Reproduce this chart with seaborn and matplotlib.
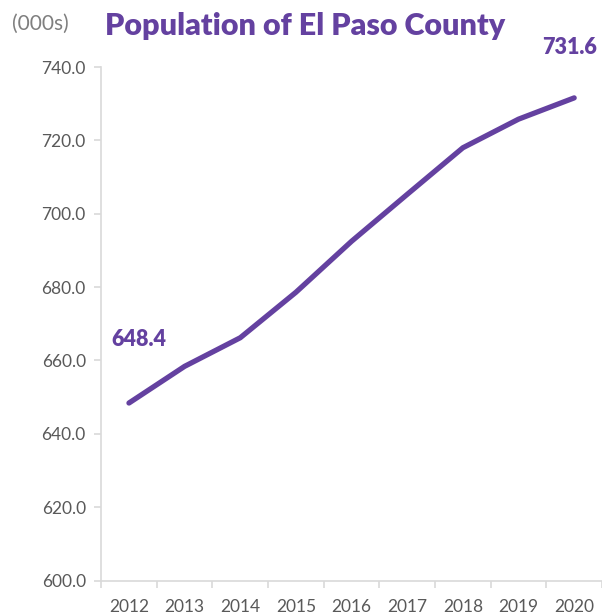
import numpy as np
import pandas as pd
import seaborn as sns
import matplotlib.pyplot as plt

# population estimates, thousands
years = ["2012", "2013", "2014", "2015", "2016", "2017", "2018", "2019", "2020"]
population = [648.4, 658.4, 666.2, 678.6, 692.5, 705.3, 718.0, 725.8, 731.6]
y_ticks = [600, 620, 640, 660, 680, 700, 720, 740]

purple = "#6441A0"
grey_text = "#595959"
grey_axis = "#D9D9D9"

df = pd.DataFrame({"year": years, "pop": population})
df["pos"] = np.arange(len(df))

sns.set_style("white")
plt.rcParams["font.family"] = ["Lato", "DejaVu Sans"]

fig = plt.figure(figsize=(6.02, 6.16), dpi=100)
ax = fig.add_axes([0.168, 0.0576, 0.832, 0.8335])

sns.lineplot(data=df, x="pos", y="pop", ax=ax, color=purple, linewidth=3.8,
             solid_capstyle="round")

ax.set_xlim(-0.5, len(years) - 0.5)
ax.set_ylim(600, 740)
ax.set_yticks(y_ticks)
ax.set_yticklabels([f"{v:.1f}" for v in y_ticks])
ax.set_xticks(df["pos"])
ax.set_xticklabels(years)
ax.set_xticks(np.arange(len(years) + 1) - 0.5, minor=True)
ax.tick_params(axis="x", which="major", length=0, pad=13, labelsize=12.5, labelcolor=grey_text)
ax.tick_params(axis="x", which="minor", length=5, color=grey_axis, width=1.2, direction="out", bottom=True)
ax.tick_params(axis="y", length=5, color=grey_axis, width=1.2, direction="out", left=True,
               labelsize=12.5, labelcolor=grey_text, pad=6)
ax.set_xlabel("")
ax.set_ylabel("")

for s in ["top", "right"]:
    ax.spines[s].set_visible(False)
for s in ["left", "bottom"]:
    ax.spines[s].set_color(grey_axis)
    ax.spines[s].set_linewidth(1.2)

# end-point labels
ax.annotate(f"{population[0]:.1f}", (df["pos"].iloc[0], population[0]),
            xytext=(10, 64), textcoords="offset pixels", ha="center", va="center",
            fontsize=15.5, fontweight="heavy", color=purple)
ax.annotate(f"{population[-1]:.1f}", (df["pos"].iloc[-1], population[-1]),
            xytext=(-5, 50), textcoords="offset pixels", ha="center", va="center",
            fontsize=15.5, fontweight="heavy", color=purple, annotation_clip=False)

fig.text(0.507, 0.958, "Population of El Paso County", ha="center", va="center",
         fontsize=22, fontweight="heavy", color=purple)
fig.text(0.02, 0.962, "(000s)", ha="left", va="center", fontsize=15, color="#7F7F7F")

fig.savefig("out.png", dpi=100)
